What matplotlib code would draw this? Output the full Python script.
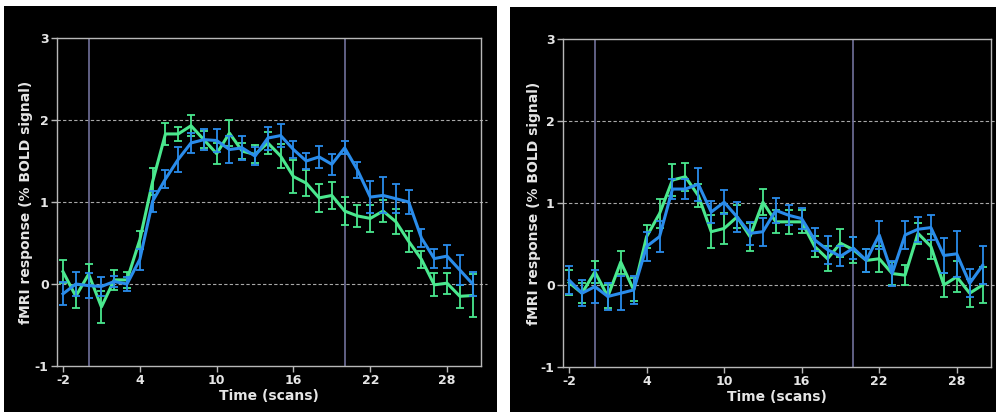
import matplotlib
matplotlib.use("Agg")
import matplotlib.pyplot as plt
from matplotlib.patches import Rectangle

plt.rcParams["axes.unicode_minus"] = False

# scan times shared by both panels
scans = list(range(-2, 31))

# left panel: condition A (green) and condition B (blue), mean and s.e.m.
left_green = [0.15, -0.15, 0.12, -0.28, 0.05, 0.05, 0.54, 1.25, 1.83, 1.83, 1.93, 1.76, 1.59,
              1.84, 1.62, 1.58, 1.72, 1.56, 1.31, 1.23, 1.05, 1.08, 0.89, 0.83, 0.80, 0.89,
              0.76, 0.52, 0.30, -0.01, 0.01, -0.15, -0.14]
left_green_err = [0.14, 0.14, 0.13, 0.20, 0.12, 0.10, 0.11, 0.16, 0.13, 0.09, 0.13, 0.10, 0.13,
                  0.16, 0.10, 0.11, 0.13, 0.15, 0.20, 0.16, 0.17, 0.16, 0.17, 0.13, 0.16, 0.13,
                  0.15, 0.13, 0.10, 0.14, 0.13, 0.14, 0.26]
left_blue = [-0.12, 0.00, -0.02, -0.03, 0.03, 0.00, 0.30, 1.01, 1.28, 1.52, 1.72, 1.76, 1.75,
             1.64, 1.66, 1.56, 1.78, 1.81, 1.64, 1.50, 1.55, 1.46, 1.66, 1.39, 1.06, 1.08,
             1.04, 1.00, 0.56, 0.31, 0.34, 0.17, 0.00]
left_blue_err = [0.14, 0.15, 0.15, 0.12, 0.07, 0.08, 0.13, 0.13, 0.11, 0.15, 0.12, 0.13, 0.14,
                 0.16, 0.15, 0.11, 0.14, 0.14, 0.10, 0.10, 0.13, 0.13, 0.08, 0.10, 0.20, 0.22,
                 0.18, 0.15, 0.11, 0.12, 0.14, 0.18, 0.15]

# right panel
right_green = [0.03, -0.10, 0.16, -0.14, 0.28, -0.06, 0.59, 0.87, 1.28, 1.32, 1.09, 0.65, 0.69,
               0.83, 0.59, 1.01, 0.77, 0.77, 0.77, 0.47, 0.32, 0.51, 0.43, 0.30, 0.32, 0.14,
               0.12, 0.63, 0.47, 0.00, 0.10, -0.10, 0.00]
right_green_err = [0.15, 0.12, 0.13, 0.14, 0.14, 0.14, 0.14, 0.18, 0.19, 0.17, 0.14, 0.20, 0.19,
                   0.14, 0.17, 0.16, 0.14, 0.15, 0.14, 0.13, 0.15, 0.17, 0.16, 0.14, 0.16, 0.14,
                   0.12, 0.13, 0.15, 0.15, 0.19, 0.17, 0.22]
right_blue = [0.06, -0.10, -0.02, -0.14, -0.10, -0.06, 0.47, 0.59, 1.17, 1.17, 1.23, 0.89, 1.01,
              0.83, 0.63, 0.65, 0.91, 0.85, 0.81, 0.55, 0.43, 0.35, 0.45, 0.30, 0.61, 0.14,
              0.61, 0.68, 0.70, 0.36, 0.38, 0.02, 0.24]
right_blue_err = [0.17, 0.16, 0.20, 0.17, 0.21, 0.17, 0.18, 0.19, 0.12, 0.12, 0.20, 0.13, 0.15,
                  0.18, 0.14, 0.17, 0.15, 0.12, 0.13, 0.14, 0.17, 0.12, 0.13, 0.14, 0.17, 0.15,
                  0.17, 0.15, 0.15, 0.21, 0.28, 0.17, 0.23]

# block onset / offset markers
block_edges = [0, 20]
x_ticks = [-2, 4, 10, 16, 22, 28]
y_ticks = [-1, 0, 1, 2, 3]

GREEN = "#4ae88e"
BLUE = "#2a8ceb"
TEXT = "#e6e6e6"
SPINE = "#b8b8b8"

W, H = 996, 417
fig = plt.figure(figsize=(W / 100, H / 100), dpi=100, facecolor="white")

# black panel backgrounds (pixel boxes: x0, y0 from top, x1, y1)
for x0, y0, x1, y1 in [(4, 6, 497, 412), (510, 7, 996, 412)]:
    fig.add_artist(Rectangle((x0 / W, 1 - y1 / H), (x1 - x0) / W, (y1 - y0) / H,
                             transform=fig.transFigure, facecolor="black",
                             edgecolor="none", zorder=0))


def draw_panel(rect, green, green_err, blue, blue_err, grid_over, ylab_x):
    x0, y0, x1, y1 = rect
    ax = fig.add_axes([x0 / W, 1 - y1 / H, (x1 - x0) / W, (y1 - y0) / H])
    ax.set_facecolor("black")
    ax.set_xlim(-2.47, 30.65)
    ax.set_ylim(-1, 3)

    for yv in [0, 1, 2]:
        ax.axhline(yv, xmin=0, xmax=grid_over, color="#a8a8a8", lw=0.8,
                   ls=(0, (3, 2)), clip_on=False, zorder=1)
    for xv in block_edges:
        ax.axvline(xv, color="#70709a", lw=1.2, zorder=1)

    ax.errorbar(scans, green, yerr=green_err, color=GREEN, lw=2.2, elinewidth=1.3,
                capsize=3, capthick=1.3, zorder=3)
    ax.errorbar(scans, blue, yerr=blue_err, color=BLUE, lw=2.2, elinewidth=1.3,
                capsize=3, capthick=1.3, zorder=4)

    for s in ax.spines.values():
        s.set_color(SPINE)
        s.set_linewidth(1.0)
    ax.set_xticks(x_ticks)
    ax.set_yticks(y_ticks)
    ax.tick_params(colors=SPINE, labelcolor=TEXT, length=4, width=1, direction="out",
                   labelsize=9, pad=2)
    for lab in ax.get_xticklabels() + ax.get_yticklabels():
        lab.set_fontweight("bold")
    ax.set_xlabel("Time (scans)", color=TEXT, fontsize=10, fontweight="bold", labelpad=1)
    ax.set_ylabel("fMRI response (% BOLD signal)", color=TEXT, fontsize=10,
                  fontweight="bold")
    ax.yaxis.set_label_coords(ylab_x, 0.5)
    return ax


draw_panel((57, 38, 481, 366), left_green, left_green_err, left_blue, left_blue_err,
           1.015, -0.057)
draw_panel((563, 39, 991, 367), right_green, right_green_err, right_blue, right_blue_err,
           1.012, -0.052)

fig.savefig("out.png", dpi=100, facecolor="white")
